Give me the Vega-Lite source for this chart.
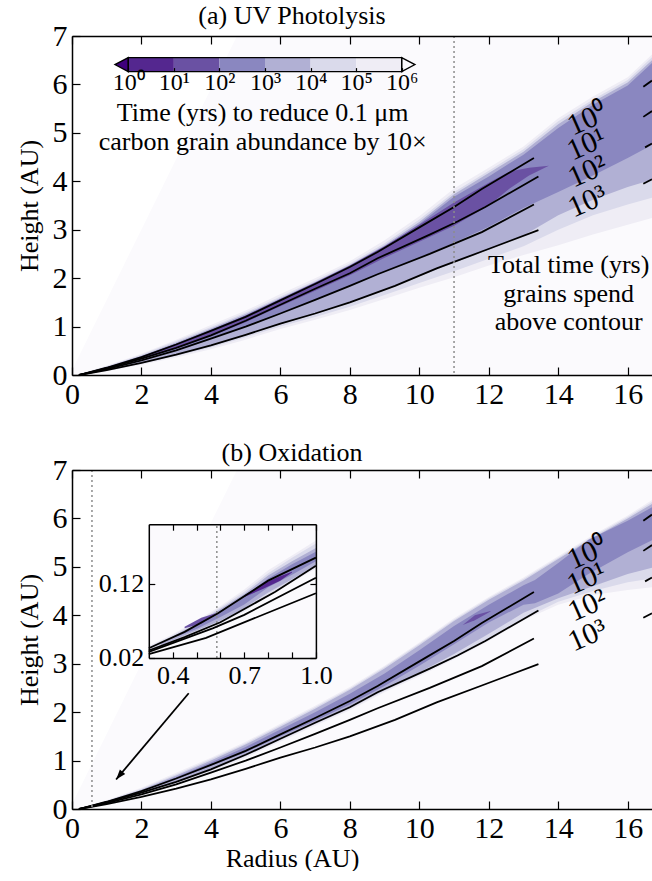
{
"$schema": "https://vega.github.io/schema/vega-lite/v6.json",
"background": "white",
"padding": {"left": 16, "top": 3, "right": 0, "bottom": 0},
"spacing": 31,
"datasets": {
"contours": [
{"seg":"L0","x":0.2,"y":0},{"seg":"L0","x":1,"y":0.15},{"seg":"L0","x":2,"y":0.37},{"seg":"L0","x":3,"y":0.63},{"seg":"L0","x":4,"y":0.91},{"seg":"L0","x":5,"y":1.2},{"seg":"L0","x":6,"y":1.54},{"seg":"L0","x":7,"y":1.88},{"seg":"L0","x":8,"y":2.23},{"seg":"L0","x":8.8,"y":2.54},{"seg":"L0","x":10.1,"y":3.09},{"seg":"L0","x":11,"y":3.47},{"seg":"L0","x":11.8,"y":3.84},{"seg":"L0","x":13.3,"y":4.48},
{"seg":"L1","x":0.2,"y":0},{"seg":"L1","x":1,"y":0.14},{"seg":"L1","x":2,"y":0.34},{"seg":"L1","x":3,"y":0.56},{"seg":"L1","x":4,"y":0.82},{"seg":"L1","x":5,"y":1.12},{"seg":"L1","x":6,"y":1.45},{"seg":"L1","x":7,"y":1.78},{"seg":"L1","x":8,"y":2.1},{"seg":"L1","x":8.8,"y":2.41},{"seg":"L1","x":10.3,"y":2.9},{"seg":"L1","x":11.1,"y":3.17},{"seg":"L1","x":11.9,"y":3.47},{"seg":"L1","x":13.43,"y":4.1},
{"seg":"L2","x":0.2,"y":0},{"seg":"L2","x":1,"y":0.12},{"seg":"L2","x":2,"y":0.3},{"seg":"L2","x":3,"y":0.51},{"seg":"L2","x":4,"y":0.75},{"seg":"L2","x":5,"y":1.0},{"seg":"L2","x":6,"y":1.27},{"seg":"L2","x":7,"y":1.55},{"seg":"L2","x":8,"y":1.84},{"seg":"L2","x":8.8,"y":2.08},{"seg":"L2","x":10.3,"y":2.5},{"seg":"L2","x":11.8,"y":2.95},{"seg":"L2","x":13.3,"y":3.52},
{"seg":"L3","x":0.2,"y":0},{"seg":"L3","x":1,"y":0.1},{"seg":"L3","x":2,"y":0.25},{"seg":"L3","x":3,"y":0.42},{"seg":"L3","x":4,"y":0.61},{"seg":"L3","x":5,"y":0.83},{"seg":"L3","x":6,"y":1.06},{"seg":"L3","x":7,"y":1.27},{"seg":"L3","x":8,"y":1.5},{"seg":"L3","x":9.3,"y":1.84},{"seg":"L3","x":10.5,"y":2.2},{"seg":"L3","x":11.8,"y":2.55},{"seg":"L3","x":13.43,"y":2.99},
{"seg":"L0r","x":16.45,"y":5.95},{"seg":"L0r","x":16.7,"y":6.08},
{"seg":"L1r","x":16.45,"y":5.33},{"seg":"L1r","x":16.7,"y":5.45},
{"seg":"L2r","x":16.5,"y":4.7},{"seg":"L2r","x":16.7,"y":4.78},
{"seg":"L3r","x":16.45,"y":3.95},{"seg":"L3r","x":16.7,"y":4.04}
],
"clabels": [
{"lab":"10⁰","x":14.85,"y":5.28},{"lab":"10¹","x":14.82,"y":4.76},{"lab":"10²","x":14.85,"y":4.2},{"lab":"10³","x":14.85,"y":3.58}
],
"bandsA": [
{"band":"bg","t":1000000,"x":0,"hi":0.1,"lo":0},{"band":"bg","t":1000000,"x":4.75,"hi":7,"lo":0},{"band":"bg","t":1000000,"x":16.7,"hi":7,"lo":0},
{"band":"a5","t":100000,"x":0.2,"hi":0.02,"lo":0},{"band":"a5","t":100000,"x":1,"hi":0.19,"lo":0.08},{"band":"a5","t":100000,"x":2,"hi":0.44,"lo":0.21},{"band":"a5","t":100000,"x":3,"hi":0.73,"lo":0.36},{"band":"a5","t":100000,"x":4,"hi":1.03,"lo":0.53},{"band":"a5","t":100000,"x":5,"hi":1.33,"lo":0.73},{"band":"a5","t":100000,"x":6,"hi":1.67,"lo":0.95},{"band":"a5","t":100000,"x":7,"hi":2.0,"lo":1.14},{"band":"a5","t":100000,"x":8,"hi":2.35,"lo":1.34},{"band":"a5","t":100000,"x":9,"hi":2.78,"lo":1.57},{"band":"a5","t":100000,"x":10,"hi":3.28,"lo":1.8},{"band":"a5","t":100000,"x":11,"hi":3.85,"lo":2.02},{"band":"a5","t":100000,"x":12,"hi":4.28,"lo":2.26},{"band":"a5","t":100000,"x":13,"hi":4.72,"lo":2.48},{"band":"a5","t":100000,"x":14,"hi":5.3,"lo":2.68},{"band":"a5","t":100000,"x":15,"hi":5.75,"lo":2.9},{"band":"a5","t":100000,"x":16,"hi":6.15,"lo":3.1},{"band":"a5","t":100000,"x":16.7,"hi":6.62,"lo":3.24},
{"band":"a4","t":10000,"x":0.2,"hi":0.01,"lo":0},{"band":"a4","t":10000,"x":1,"hi":0.18,"lo":0.09},{"band":"a4","t":10000,"x":2,"hi":0.42,"lo":0.23},{"band":"a4","t":10000,"x":3,"hi":0.7,"lo":0.39},{"band":"a4","t":10000,"x":4,"hi":0.99,"lo":0.57},{"band":"a4","t":10000,"x":5,"hi":1.29,"lo":0.78},{"band":"a4","t":10000,"x":6,"hi":1.62,"lo":1.0},{"band":"a4","t":10000,"x":7,"hi":1.95,"lo":1.2},{"band":"a4","t":10000,"x":8,"hi":2.3,"lo":1.41},{"band":"a4","t":10000,"x":9,"hi":2.72,"lo":1.65},{"band":"a4","t":10000,"x":10,"hi":3.21,"lo":1.9},{"band":"a4","t":10000,"x":11,"hi":3.78,"lo":2.14},{"band":"a4","t":10000,"x":12,"hi":4.22,"lo":2.4},{"band":"a4","t":10000,"x":13,"hi":4.66,"lo":2.66},{"band":"a4","t":10000,"x":14,"hi":5.24,"lo":3.0},{"band":"a4","t":10000,"x":15,"hi":5.69,"lo":3.3},{"band":"a4","t":10000,"x":16,"hi":6.09,"lo":3.52},{"band":"a4","t":10000,"x":16.7,"hi":6.56,"lo":3.66},
{"band":"a3","t":1000,"x":0.2,"hi":0.005,"lo":0},{"band":"a3","t":1000,"x":1,"hi":0.17,"lo":0.1},{"band":"a3","t":1000,"x":2,"hi":0.4,"lo":0.245},{"band":"a3","t":1000,"x":3,"hi":0.67,"lo":0.41},{"band":"a3","t":1000,"x":4,"hi":0.96,"lo":0.6},{"band":"a3","t":1000,"x":5,"hi":1.26,"lo":0.82},{"band":"a3","t":1000,"x":6,"hi":1.59,"lo":1.05},{"band":"a3","t":1000,"x":7,"hi":1.92,"lo":1.26},{"band":"a3","t":1000,"x":8,"hi":2.27,"lo":1.49},{"band":"a3","t":1000,"x":9,"hi":2.68,"lo":1.76},{"band":"a3","t":1000,"x":10,"hi":3.16,"lo":2.04},{"band":"a3","t":1000,"x":11,"hi":3.73,"lo":2.32},{"band":"a3","t":1000,"x":12,"hi":4.17,"lo":2.59},{"band":"a3","t":1000,"x":13,"hi":4.61,"lo":2.88},{"band":"a3","t":1000,"x":14,"hi":5.18,"lo":3.3},{"band":"a3","t":1000,"x":15,"hi":5.64,"lo":3.62},{"band":"a3","t":1000,"x":16,"hi":6.04,"lo":3.88},{"band":"a3","t":1000,"x":16.7,"hi":6.5,"lo":4.03},
{"band":"a2","t":100,"x":0.2,"hi":0.003,"lo":0},{"band":"a2","t":100,"x":1,"hi":0.16,"lo":0.12},{"band":"a2","t":100,"x":2,"hi":0.385,"lo":0.3},{"band":"a2","t":100,"x":3,"hi":0.65,"lo":0.51},{"band":"a2","t":100,"x":4,"hi":0.94,"lo":0.75},{"band":"a2","t":100,"x":5,"hi":1.23,"lo":1.0},{"band":"a2","t":100,"x":6,"hi":1.57,"lo":1.27},{"band":"a2","t":100,"x":7,"hi":1.9,"lo":1.55},{"band":"a2","t":100,"x":8,"hi":2.25,"lo":1.84},{"band":"a2","t":100,"x":9,"hi":2.65,"lo":2.13},{"band":"a2","t":100,"x":10,"hi":3.12,"lo":2.42},{"band":"a2","t":100,"x":11,"hi":3.68,"lo":2.73},{"band":"a2","t":100,"x":12,"hi":4.1,"lo":3.06},{"band":"a2","t":100,"x":13,"hi":4.55,"lo":3.45},{"band":"a2","t":100,"x":14,"hi":5.1,"lo":3.78},{"band":"a2","t":100,"x":15,"hi":5.58,"lo":4.12},{"band":"a2","t":100,"x":16,"hi":5.98,"lo":4.48},{"band":"a2","t":100,"x":16.7,"hi":6.44,"lo":4.75},
{"band":"a1","t":10,"x":1.5,"hi":0.26,"lo":0.26},{"band":"a1","t":10,"x":2,"hi":0.38,"lo":0.33},{"band":"a1","t":10,"x":3,"hi":0.645,"lo":0.55},{"band":"a1","t":10,"x":4,"hi":0.93,"lo":0.8},{"band":"a1","t":10,"x":5,"hi":1.23,"lo":1.09},{"band":"a1","t":10,"x":6,"hi":1.57,"lo":1.42},{"band":"a1","t":10,"x":7,"hi":1.91,"lo":1.74},{"band":"a1","t":10,"x":8,"hi":2.26,"lo":2.06},{"band":"a1","t":10,"x":9,"hi":2.66,"lo":2.42},{"band":"a1","t":10,"x":10,"hi":3.1,"lo":2.75},{"band":"a1","t":10,"x":11,"hi":3.56,"lo":3.08},{"band":"a1","t":10,"x":12,"hi":3.97,"lo":3.5},{"band":"a1","t":10,"x":12.6,"hi":4.2,"lo":3.85},{"band":"a1","t":10,"x":13.16,"hi":4.28,"lo":4.12},{"band":"a1","t":10,"x":13.73,"hi":4.32,"lo":4.32}
],
"bandsB": [
{"band":"bg","t":1000000,"x":0,"hi":0.1,"lo":0},{"band":"bg","t":1000000,"x":4.75,"hi":7,"lo":0},{"band":"bg","t":1000000,"x":16.7,"hi":7,"lo":0},
{"band":"b5","t":100000,"x":0.2,"hi":0.01,"lo":0},{"band":"b5","t":100000,"x":1,"hi":0.18,"lo":0.11},{"band":"b5","t":100000,"x":2,"hi":0.44,"lo":0.29},{"band":"b5","t":100000,"x":3,"hi":0.75,"lo":0.5},{"band":"b5","t":100000,"x":4,"hi":1.06,"lo":0.76},{"band":"b5","t":100000,"x":5,"hi":1.39,"lo":1.06},{"band":"b5","t":100000,"x":6,"hi":1.76,"lo":1.39},{"band":"b5","t":100000,"x":7,"hi":2.13,"lo":1.72},{"band":"b5","t":100000,"x":8,"hi":2.52,"lo":2.04},{"band":"b5","t":100000,"x":9,"hi":2.96,"lo":2.41},{"band":"b5","t":100000,"x":10,"hi":3.44,"lo":2.74},{"band":"b5","t":100000,"x":11,"hi":3.94,"lo":3.09},{"band":"b5","t":100000,"x":12,"hi":4.38,"lo":3.47},{"band":"b5","t":100000,"x":13,"hi":4.78,"lo":3.9},{"band":"b5","t":100000,"x":14,"hi":5.22,"lo":4.22},{"band":"b5","t":100000,"x":15,"hi":5.66,"lo":4.42},{"band":"b5","t":100000,"x":16,"hi":6.06,"lo":4.52},{"band":"b5","t":100000,"x":16.7,"hi":6.38,"lo":4.58},
{"band":"b4","t":10000,"x":0.2,"hi":0.007,"lo":0},{"band":"b4","t":10000,"x":1,"hi":0.17,"lo":0.125},{"band":"b4","t":10000,"x":2,"hi":0.42,"lo":0.315},{"band":"b4","t":10000,"x":3,"hi":0.72,"lo":0.53},{"band":"b4","t":10000,"x":4,"hi":1.03,"lo":0.79},{"band":"b4","t":10000,"x":5,"hi":1.36,"lo":1.09},{"band":"b4","t":10000,"x":6,"hi":1.73,"lo":1.42},{"band":"b4","t":10000,"x":7,"hi":2.1,"lo":1.75},{"band":"b4","t":10000,"x":8,"hi":2.49,"lo":2.07},{"band":"b4","t":10000,"x":9,"hi":2.93,"lo":2.44},{"band":"b4","t":10000,"x":10,"hi":3.41,"lo":2.77},{"band":"b4","t":10000,"x":11,"hi":3.91,"lo":3.12},{"band":"b4","t":10000,"x":12,"hi":4.35,"lo":3.5},{"band":"b4","t":10000,"x":13,"hi":4.75,"lo":3.93},{"band":"b4","t":10000,"x":14,"hi":5.19,"lo":4.28},{"band":"b4","t":10000,"x":15,"hi":5.63,"lo":4.5},{"band":"b4","t":10000,"x":16,"hi":6.03,"lo":4.68},{"band":"b4","t":10000,"x":16.7,"hi":6.34,"lo":4.76},
{"band":"b3","t":1000,"x":0.2,"hi":0.005,"lo":0},{"band":"b3","t":1000,"x":1,"hi":0.16,"lo":0.14},{"band":"b3","t":1000,"x":2,"hi":0.4,"lo":0.34},{"band":"b3","t":1000,"x":3,"hi":0.69,"lo":0.56},{"band":"b3","t":1000,"x":4,"hi":1.0,"lo":0.82},{"band":"b3","t":1000,"x":5,"hi":1.33,"lo":1.12},{"band":"b3","t":1000,"x":6,"hi":1.7,"lo":1.45},{"band":"b3","t":1000,"x":7,"hi":2.07,"lo":1.78},{"band":"b3","t":1000,"x":8,"hi":2.46,"lo":2.1},{"band":"b3","t":1000,"x":9,"hi":2.9,"lo":2.47},{"band":"b3","t":1000,"x":10,"hi":3.38,"lo":2.82},{"band":"b3","t":1000,"x":11,"hi":3.88,"lo":3.2},{"band":"b3","t":1000,"x":12,"hi":4.32,"lo":3.62},{"band":"b3","t":1000,"x":13,"hi":4.72,"lo":4.05},{"band":"b3","t":1000,"x":14,"hi":5.16,"lo":4.35},{"band":"b3","t":1000,"x":15,"hi":5.6,"lo":4.6},{"band":"b3","t":1000,"x":16,"hi":6.0,"lo":4.85},{"band":"b3","t":1000,"x":16.7,"hi":6.3,"lo":4.98},
{"band":"b2","t":100,"x":2.5,"hi":0.52,"lo":0.5},{"band":"b2","t":100,"x":3,"hi":0.66,"lo":0.62},{"band":"b2","t":100,"x":4,"hi":0.96,"lo":0.89},{"band":"b2","t":100,"x":5,"hi":1.28,"lo":1.17},{"band":"b2","t":100,"x":6,"hi":1.64,"lo":1.5},{"band":"b2","t":100,"x":7,"hi":2.0,"lo":1.82},{"band":"b2","t":100,"x":8,"hi":2.38,"lo":2.16},{"band":"b2","t":100,"x":9,"hi":2.8,"lo":2.54},{"band":"b2","t":100,"x":10,"hi":3.28,"lo":2.96},{"band":"b2","t":100,"x":11,"hi":3.78,"lo":3.4},{"band":"b2","t":100,"x":12,"hi":4.22,"lo":3.85},{"band":"b2","t":100,"x":13,"hi":4.62,"lo":4.22},{"band":"b2","t":100,"x":13.33,"hi":4.73,"lo":4.25},{"band":"b2","t":100,"x":14,"hi":5.08,"lo":4.45},{"band":"b2","t":100,"x":14.87,"hi":5.56,"lo":4.85},{"band":"b2","t":100,"x":16,"hi":5.95,"lo":5.3},{"band":"b2","t":100,"x":16.7,"hi":6.23,"lo":5.55},
{"band":"b1","t":10,"x":11.25,"hi":3.8,"lo":3.8},{"band":"b1","t":10,"x":11.6,"hi":4.0,"lo":3.9},{"band":"b1","t":10,"x":12.05,"hi":4.09,"lo":4.08}
],
"bandsI": [
{"band":"i5","t":100000,"x":0.3,"hi":0.036,"lo":0.03},{"band":"i5","t":100000,"x":0.4,"hi":0.052,"lo":0.042},{"band":"i5","t":100000,"x":0.5,"hi":0.07,"lo":0.054},{"band":"i5","t":100000,"x":0.6,"hi":0.09,"lo":0.066},{"band":"i5","t":100000,"x":0.7,"hi":0.112,"lo":0.082},{"band":"i5","t":100000,"x":0.8,"hi":0.138,"lo":0.104},{"band":"i5","t":100000,"x":0.9,"hi":0.158,"lo":0.122},{"band":"i5","t":100000,"x":1.0,"hi":0.178,"lo":0.14},
{"band":"i4","t":10000,"x":0.3,"hi":0.035,"lo":0.03},{"band":"i4","t":10000,"x":0.4,"hi":0.05,"lo":0.043},{"band":"i4","t":10000,"x":0.5,"hi":0.068,"lo":0.056},{"band":"i4","t":10000,"x":0.6,"hi":0.088,"lo":0.068},{"band":"i4","t":10000,"x":0.7,"hi":0.109,"lo":0.084},{"band":"i4","t":10000,"x":0.8,"hi":0.134,"lo":0.106},{"band":"i4","t":10000,"x":0.9,"hi":0.155,"lo":0.124},{"band":"i4","t":10000,"x":1.0,"hi":0.174,"lo":0.142},
{"band":"i3","t":1000,"x":0.35,"hi":0.04,"lo":0.037},{"band":"i3","t":1000,"x":0.5,"hi":0.066,"lo":0.057},{"band":"i3","t":1000,"x":0.6,"hi":0.086,"lo":0.07},{"band":"i3","t":1000,"x":0.7,"hi":0.106,"lo":0.087},{"band":"i3","t":1000,"x":0.8,"hi":0.131,"lo":0.108},{"band":"i3","t":1000,"x":0.9,"hi":0.15,"lo":0.126},{"band":"i3","t":1000,"x":1.0,"hi":0.168,"lo":0.145},
{"band":"i2","t":100,"x":0.42,"hi":0.05,"lo":0.049},{"band":"i2","t":100,"x":0.5,"hi":0.063,"lo":0.059},{"band":"i2","t":100,"x":0.6,"hi":0.083,"lo":0.075},{"band":"i2","t":100,"x":0.7,"hi":0.103,"lo":0.092},{"band":"i2","t":100,"x":0.8,"hi":0.127,"lo":0.115},{"band":"i2","t":100,"x":0.9,"hi":0.146,"lo":0.132},{"band":"i2","t":100,"x":1.0,"hi":0.163,"lo":0.15},
{"band":"i1b","t":10,"x":0.45,"hi":0.062,"lo":0.06},{"band":"i1b","t":10,"x":0.52,"hi":0.074,"lo":0.066},{"band":"i1b","t":10,"x":0.58,"hi":0.08,"lo":0.078},
{"band":"i1","t":1,"x":0.7,"hi":0.104,"lo":0.102},{"band":"i1","t":1,"x":0.78,"hi":0.12,"lo":0.113},{"band":"i1","t":1,"x":0.85,"hi":0.13,"lo":0.124},{"band":"i1","t":1,"x":0.9,"hi":0.136,"lo":0.135}
],
"insetLines": [
{"seg":"L0","x":0.3,"y":0.033},{"seg":"L0","x":0.45,"y":0.055},{"seg":"L0","x":0.59,"y":0.08},{"seg":"L0","x":0.8,"y":0.124},{"seg":"L0","x":1.0,"y":0.155},
{"seg":"L1","x":0.3,"y":0.03},{"seg":"L1","x":0.45,"y":0.048},{"seg":"L1","x":0.6,"y":0.068},{"seg":"L1","x":0.83,"y":0.109},{"seg":"L1","x":1.0,"y":0.144},
{"seg":"L2","x":0.3,"y":0.028},{"seg":"L2","x":0.57,"y":0.06},{"seg":"L2","x":0.7,"y":0.078},{"seg":"L2","x":1.0,"y":0.128},
{"seg":"L3","x":0.3,"y":0.025},{"seg":"L3","x":0.54,"y":0.047},{"seg":"L3","x":1.0,"y":0.107}
],
"cbar": [
{"lo":1,"hi":10,"t":1},{"lo":10,"hi":100,"t":10},{"lo":100,"hi":1000,"t":100},{"lo":1000,"hi":10000,"t":1000},{"lo":10000,"hi":100000,"t":10000},{"lo":100000,"hi":1000000,"t":100000}
],
"cbarEnds": [
{"end":"low","v":0.7,"t":0.5},{"end":"high","v":1420000,"t":2000000}
]
},
"vconcat": [
{
"width": 580, "height": 339,
"title": {"text": "(a) UV Photolysis", "dx": -70, "offset": -8},
"layer": [
{"data": {"name": "bandsA"}, "mark": {"type": "area", "strokeWidth": 0},
 "encoding": {
  "x": {"field": "x", "type": "quantitative", "scale": {"domain": [0, 16.7], "nice": false, "zero": false}, "axis": {"orient": "bottom", "zindex": 1, "values": [0,2,4,6,8,10,12,14,16], "tickSize": -8, "labelPadding": 12, "title": null}},
  "y": {"field": "hi", "type": "quantitative", "stack": null, "scale": {"domain": [0, 7], "nice": false, "zero": false}, "axis": {"orient": "left", "zindex": 1, "values": [0,1,2,3,4,5,6,7], "tickSize": -8, "labelPadding": 13, "title": "Height (AU)", "titlePadding": 10}},
  "y2": {"field": "lo"},
  "detail": {"field": "band"},
  "color": {"field": "t", "type": "quantitative", "scale": {"type": "threshold", "domain": [1,10,100,1000,10000,100000,1000000], "range": ["#3f007d","#54278f","#6a51a3","#8a87c0","#b1b0d4","#dadaeb","#efedf5","#fbfafd"]}, "legend": null}
 }},
{"data": {"name": "contours"}, "mark": {"type": "line", "color": "black", "strokeWidth": 1.8},
 "encoding": {
  "x": {"field": "x", "type": "quantitative", "scale": {"domain": [0, 16.7], "nice": false, "zero": false}, "axis": {"orient": "top", "zindex": 1, "values": [0,2,4,6,8,10,12,14,16], "tickSize": -8, "labels": false, "title": null}},
  "y": {"field": "y", "type": "quantitative", "scale": {"domain": [0, 7], "nice": false, "zero": false}, "axis": null},
  "detail": {"field": "seg"}
 }},
{"data": {"values": [{"x": 11.0}]}, "mark": {"type": "rule", "color": "#8c8c8c", "strokeDash": [2, 3], "strokeWidth": 1.5},
 "encoding": {"x": {"field": "x", "type": "quantitative", "scale": {"domain": [0, 16.7], "nice": false, "zero": false}, "axis": null}}},
{"data": {"name": "clabels"}, "mark": {"type": "text", "fontSize": 30, "angle": -24, "font": "Liberation Serif", "color": "black"},
 "encoding": {
  "x": {"field": "x", "type": "quantitative", "scale": {"domain": [0, 16.7], "nice": false, "zero": false}, "axis": null},
  "y": {"field": "y", "type": "quantitative", "scale": {"domain": [0, 7], "nice": false, "zero": false}, "axis": null},
  "text": {"field": "lab"}
 }},
{"data": {"values": [{"txt": "Total time (yrs)\ngrains spend\nabove contour", "x": 14.3, "y": 2.27}, {"txt": "Time (yrs) to reduce 0.1 μm\ncarbon grain abundance by 10×", "x": 5.49, "y": 5.4}]},
 "mark": {"type": "text", "fontSize": 26, "lineBreak": "\n", "lineHeight": 28.5, "font": "Liberation Serif", "color": "black"},
 "encoding": {
  "x": {"field": "x", "type": "quantitative", "scale": {"domain": [0, 16.7], "nice": false, "zero": false}, "axis": null},
  "y": {"field": "y", "type": "quantitative", "scale": {"domain": [0, 7], "nice": false, "zero": false}, "axis": null},
  "text": {"field": "txt"}
 }},
{"data": {"name": "cbar"}, "mark": {"type": "rect"},
 "encoding": {
  "x": {"field": "lo", "type": "quantitative", "scale": {"type": "log", "domain": [1, 1000000], "range": [56.3, 329.7]}, "axis": {"orient": "bottom", "zindex": 1, "offset": -303.4, "values": [1,10,100,1000,10000,100000,1000000], "labelExpr": "'10' + ['⁰','¹','²','³','⁴','⁵','⁶'][round(log(datum.value)/LN10)]", "tickSize": -4, "labelPadding": 3, "labelFontSize": 24, "domain": false, "title": null}},
  "x2": {"field": "hi"},
  "y": {"datum": 0, "type": "quantitative", "scale": {"domain": [0, 1], "range": [35.6, 21.6]}, "axis": null},
  "y2": {"datum": 1},
  "color": {"field": "t", "type": "quantitative", "scale": {"type": "threshold", "domain": [1,10,100,1000,10000,100000,1000000], "range": ["#3f007d","#54278f","#6a51a3","#8a87c0","#b1b0d4","#dadaeb","#efedf5","#fbfafd"]}, "legend": null}
 }},
{"data": {"name": "cbarEnds"}, "mark": {"type": "point", "size": 196, "filled": true, "opacity": 1, "stroke": "black", "strokeWidth": 1.3},
 "encoding": {
  "x": {"field": "v", "type": "quantitative", "scale": {"type": "log", "domain": [1, 1000000], "range": [56.3, 329.7]}, "axis": null},
  "y": {"datum": 0.5, "type": "quantitative", "scale": {"domain": [0, 1], "range": [35.6, 21.6]}, "axis": null},
  "shape": {"field": "end", "type": "nominal", "scale": {"domain": ["low", "high"], "range": ["M 1 -1 L 1 1 L -0.9 0 Z", "M -1 -1 L -1 1 L 0.9 0 Z"]}, "legend": null},
  "color": {"field": "t", "type": "quantitative", "scale": {"type": "threshold", "domain": [1,10,100,1000,10000,100000,1000000], "range": ["#3f007d","#54278f","#6a51a3","#8a87c0","#b1b0d4","#dadaeb","#efedf5","#fbfafd"]}, "legend": null}
 }},
{"data": {"values": [{"lo": 1, "hi": 1000000}]}, "mark": {"type": "rect", "fillOpacity": 0, "stroke": "black", "strokeWidth": 1.3},
 "encoding": {
  "x": {"field": "lo", "type": "quantitative", "scale": {"type": "log", "domain": [1, 1000000], "range": [56.3, 329.7]}, "axis": null},
  "x2": {"field": "hi"},
  "y": {"datum": 0, "type": "quantitative", "scale": {"domain": [0, 1], "range": [35.6, 21.6]}, "axis": null},
  "y2": {"datum": 1}
 }}
],
"resolve": {"scale": {"x": "independent", "y": "independent"}}
},
{
"width": 580, "height": 339,
"title": {"text": "(b) Oxidation", "dx": -70, "offset": -11},
"layer": [
{"data": {"name": "bandsB"}, "mark": {"type": "area", "strokeWidth": 0},
 "encoding": {
  "x": {"field": "x", "type": "quantitative", "scale": {"domain": [0, 16.7], "nice": false, "zero": false}, "axis": {"orient": "bottom", "zindex": 1, "values": [0,2,4,6,8,10,12,14,16], "tickSize": -8, "labelPadding": 12, "title": "Radius (AU)", "titleX": 220, "titlePadding": 2}},
  "y": {"field": "hi", "type": "quantitative", "stack": null, "scale": {"domain": [0, 7], "nice": false, "zero": false}, "axis": {"orient": "left", "zindex": 1, "values": [0,1,2,3,4,5,6,7], "tickSize": -8, "labelPadding": 13, "title": "Height (AU)", "titlePadding": 10}},
  "y2": {"field": "lo"},
  "detail": {"field": "band"},
  "color": {"field": "t", "type": "quantitative", "scale": {"type": "threshold", "domain": [1,10,100,1000,10000,100000,1000000], "range": ["#3f007d","#54278f","#6a51a3","#8a87c0","#b1b0d4","#dadaeb","#efedf5","#fbfafd"]}, "legend": null}
 }},
{"data": {"name": "contours"}, "mark": {"type": "line", "color": "black", "strokeWidth": 1.8},
 "encoding": {
  "x": {"field": "x", "type": "quantitative", "scale": {"domain": [0, 16.7], "nice": false, "zero": false}, "axis": {"orient": "top", "zindex": 1, "values": [0,2,4,6,8,10,12,14,16], "tickSize": -8, "labels": false, "title": null}},
  "y": {"field": "y", "type": "quantitative", "scale": {"domain": [0, 7], "nice": false, "zero": false}, "axis": null},
  "detail": {"field": "seg"}
 }},
{"data": {"values": [{"x": 0.575}]}, "mark": {"type": "rule", "color": "#8c8c8c", "strokeDash": [2, 3], "strokeWidth": 1.5},
 "encoding": {"x": {"field": "x", "type": "quantitative", "scale": {"domain": [0, 16.7], "nice": false, "zero": false}, "axis": null}}},
{"data": {"name": "clabels"}, "mark": {"type": "text", "fontSize": 30, "angle": -24, "font": "Liberation Serif", "color": "black"},
 "encoding": {
  "x": {"field": "x", "type": "quantitative", "scale": {"domain": [0, 16.7], "nice": false, "zero": false}, "axis": null},
  "y": {"field": "y", "type": "quantitative", "scale": {"domain": [0, 7], "nice": false, "zero": false}, "axis": null},
  "text": {"field": "lab"}
 }},
{"data": {"values": [{"x": 3.36, "y": 2.39, "xe": 1.27, "ye": 0.61}]}, "mark": {"type": "rule", "color": "black", "strokeWidth": 1.8},
 "encoding": {
  "x": {"field": "x", "type": "quantitative", "scale": {"domain": [0, 16.7], "nice": false, "zero": false}, "axis": null},
  "y": {"field": "y", "type": "quantitative", "scale": {"domain": [0, 7], "nice": false, "zero": false}, "axis": null},
  "x2": {"field": "xe"}, "y2": {"field": "ye"}
 }},
{"data": {"values": [{"x": 1.27, "y": 0.61}]}, "mark": {"type": "point", "shape": "M 0 0 L -0.35 -1 L 0.35 -1 Z", "size": 400, "angle": 40, "filled": true, "color": "black", "opacity": 1},
 "encoding": {
  "x": {"field": "x", "type": "quantitative", "scale": {"domain": [0, 16.7], "nice": false, "zero": false}, "axis": null},
  "y": {"field": "y", "type": "quantitative", "scale": {"domain": [0, 7], "nice": false, "zero": false}, "axis": null}
 }},
{"data": {"values": [{"x0": 0.3, "x1": 1.0, "y0": 0.02, "y1": 0.2, "t": 1000000}]}, "mark": {"type": "rect"},
 "encoding": {
  "x": {"field": "x0", "type": "quantitative", "scale": {"domain": [0.3, 1.0], "range": [76.8, 243.9], "nice": false, "zero": false}, "axis": {"orient": "bottom", "zindex": 1, "offset": -151.1, "values": [0.4,0.5,0.6,0.7,0.8,0.9,1.0], "labelExpr": "(round(datum.value*10) % 3 == 1) ? format(datum.value, '.1f') : ''", "tickSize": -6, "labelPadding": 11, "labelFontSize": 26, "title": null}},
  "x2": {"field": "x1"},
  "y": {"field": "y0", "type": "quantitative", "scale": {"domain": [0.02, 0.2], "range": [187.9, 54.2], "nice": false, "zero": false}, "axis": {"orient": "left", "zindex": 1, "offset": -76.8, "values": [0.02, 0.12], "format": ".2f", "tickSize": -6, "labelPadding": 11, "labelFontSize": 26, "title": null}},
  "y2": {"field": "y1"},
  "color": {"field": "t", "type": "quantitative", "scale": {"type": "threshold", "domain": [1,10,100,1000,10000,100000,1000000], "range": ["#3f007d","#54278f","#6a51a3","#8a87c0","#b1b0d4","#dadaeb","#efedf5","#fbfafd"]}, "legend": null}
 }},
{"data": {"name": "bandsI"}, "mark": {"type": "area", "strokeWidth": 0},
 "encoding": {
  "x": {"field": "x", "type": "quantitative", "scale": {"domain": [0.3, 1.0], "range": [76.8, 243.9], "nice": false, "zero": false}, "axis": null},
  "y": {"field": "hi", "type": "quantitative", "stack": null, "scale": {"domain": [0.02, 0.2], "range": [187.9, 54.2], "nice": false, "zero": false}, "axis": null},
  "y2": {"field": "lo"},
  "detail": {"field": "band"},
  "color": {"field": "t", "type": "quantitative", "scale": {"type": "threshold", "domain": [1,10,100,1000,10000,100000,1000000], "range": ["#3f007d","#54278f","#6a51a3","#8a87c0","#b1b0d4","#dadaeb","#efedf5","#fbfafd"]}, "legend": null}
 }},
{"data": {"values": [{"x": 0.585, "y0": 0.02, "y1": 0.2}]}, "mark": {"type": "rule", "color": "#8c8c8c", "strokeDash": [2, 3], "strokeWidth": 1.5},
 "encoding": {
  "x": {"field": "x", "type": "quantitative", "scale": {"domain": [0.3, 1.0], "range": [76.8, 243.9], "nice": false, "zero": false}, "axis": null},
  "y": {"field": "y0", "type": "quantitative", "scale": {"domain": [0.02, 0.2], "range": [187.9, 54.2], "nice": false, "zero": false}, "axis": null},
  "y2": {"field": "y1"}
 }},
{"data": {"name": "insetLines"}, "mark": {"type": "line", "color": "black", "strokeWidth": 1.8},
 "encoding": {
  "x": {"field": "x", "type": "quantitative", "scale": {"domain": [0.3, 1.0], "range": [76.8, 243.9], "nice": false, "zero": false}, "axis": {"orient": "top", "zindex": 1, "offset": -54.2, "values": [0.4,0.5,0.6,0.7,0.8,0.9,1.0], "tickSize": -6, "labels": false, "title": null}},
  "y": {"field": "y", "type": "quantitative", "scale": {"domain": [0.02, 0.2], "range": [187.9, 54.2], "nice": false, "zero": false}, "axis": {"orient": "right", "zindex": 1, "offset": -336.1, "values": [0.02, 0.12], "tickSize": -6, "labels": false, "title": null}},
  "detail": {"field": "seg"}
 }}
],
"resolve": {"scale": {"x": "independent", "y": "independent"}}
}
],
"config": {
 "font": "Liberation Serif",
 "view": {"stroke": null},
 "axis": {"domain": true, "domainColor": "black", "domainWidth": 1.5, "tickColor": "black", "tickWidth": 1.2, "labelColor": "black", "titleColor": "black", "labelFontSize": 30, "titleFontSize": 26, "titleFontWeight": "normal", "labelFlush": false, "labelOverlap": false, "grid": false, "labelFont": "Liberation Serif", "titleFont": "Liberation Serif"},
 "title": {"fontSize": 26, "fontWeight": "normal", "font": "Liberation Serif", "color": "black"},
 "text": {"font": "Liberation Serif", "color": "black"}
}
}
